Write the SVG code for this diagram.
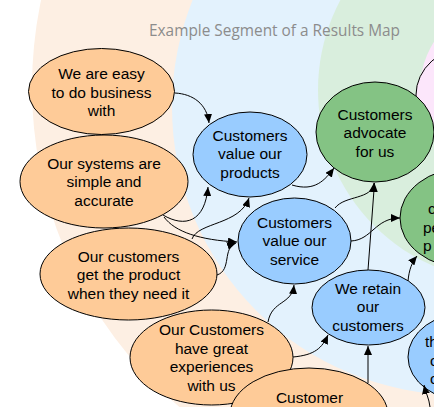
<svg xmlns="http://www.w3.org/2000/svg" width="434" height="407" viewBox="0 0 434 407">
<defs>
<style>
.t{font-family:"Liberation Sans",Arial,sans-serif;font-size:15.5px;fill:#000;text-anchor:middle}
.ts{font-family:"Liberation Sans",Arial,sans-serif;font-size:15.5px;fill:#000}
.o{fill:#fecb98;stroke:#000;stroke-width:1}
.b{fill:#99ccff;stroke:#000;stroke-width:1}
.g{fill:#84c384;stroke:#000;stroke-width:1}
.p{fill:#fce6fb;stroke:#000;stroke-width:1}
.c{fill:none;stroke:#000;stroke-width:1}
.title{font-family:"Open Sans",sans-serif;font-size:15.4px;fill:#8c8c8c}
</style>
<marker id="ah" markerUnits="userSpaceOnUse" markerWidth="10" markerHeight="8" refX="9" refY="4" orient="auto">
<path d="M0,0 L9,4 L0,8 z" fill="#000"/>
</marker>
</defs>
<rect width="434" height="407" fill="#fff"/>
<g id="background">
<circle cx="453" cy="87" r="421" fill="#fdefe3"/>
<circle cx="460" cy="107" r="288" fill="#e3f2fd"/>
<circle cx="510" cy="90" r="192" fill="#d9eedd"/>
<circle cx="510" cy="90" r="90" fill="#fce6fb"/>
</g>
<text class="title" x="149" y="36">Example Segment of a Results Map</text>
<g id="n12"><ellipse class="p" cx="470" cy="95" rx="54" ry="48"/></g>
<g id="n1"><ellipse class="o" cx="101.5" cy="91.5" rx="73" ry="43"/>
<text class="t" x="101.5" y="79">We are easy</text><text class="t" x="101.5" y="97.5">to do business</text><text class="t" x="101.5" y="116">with</text></g>
<g id="n2"><ellipse class="o" cx="104" cy="181.5" rx="84" ry="46.5"/>
<text class="t" x="104" y="168.5">Our systems are</text><text class="t" x="104" y="187">simple and</text><text class="t" x="104" y="205.5">accurate</text></g>
<g id="n3"><ellipse class="o" cx="128.5" cy="274" rx="88.5" ry="46"/>
<text class="t" x="128.5" y="261.5">Our customers</text><text class="t" x="128.5" y="280">get the product</text><text class="t" x="128.5" y="298.5">when they need it</text></g>
<g id="n4"><ellipse class="o" cx="211.5" cy="357.5" rx="81.5" ry="47.5"/>
<text class="t" x="211.5" y="335">Our Customers</text><text class="t" x="211.5" y="353.5">have great</text><text class="t" x="211.5" y="372">experiences</text><text class="t" x="211.5" y="390.5">with us</text></g>
<g id="n5"><ellipse class="o" cx="309" cy="415" rx="79" ry="47"/>
<text class="t" x="309.5" y="403">Customer</text></g>
<g id="n6"><ellipse class="b" cx="250" cy="154.5" rx="57" ry="42.5"/>
<text class="t" x="250" y="140.5">Customers</text><text class="t" x="250" y="159">value our</text><text class="t" x="250" y="177.5">products</text></g>
<g id="n7"><ellipse class="b" cx="294.5" cy="241" rx="56.5" ry="43"/>
<text class="t" x="294.5" y="227.5">Customers</text><text class="t" x="294.5" y="246">value our</text><text class="t" x="294.5" y="264.5">service</text></g>
<g id="n8"><ellipse class="b" cx="368.5" cy="307.5" rx="56.5" ry="37.5"/>
<text class="t" x="368" y="293.5">We retain</text><text class="t" x="368" y="312">our</text><text class="t" x="368" y="330.5">customers</text></g>
<g id="n9"><ellipse class="g" cx="375" cy="132" rx="59" ry="50"/>
<text class="t" x="375" y="119.5">Customers</text><text class="t" x="375" y="138">advocate</text><text class="t" x="375" y="156.5">for us</text></g>
<g id="n10"><ellipse class="g" cx="465" cy="218" rx="65" ry="50"/>
<text class="ts" x="428" y="214">c</text><text class="ts" x="423" y="232.5">pe</text><text class="ts" x="423" y="251">p</text></g>
<g id="n11"><ellipse class="b" cx="470" cy="357" rx="62" ry="45"/>
<text class="ts" x="425" y="347">th</text><text class="ts" x="430" y="365.5">c</text><text class="ts" x="430" y="384">c</text></g>
<g id="connectors">
<path class="c" marker-end="url(#ah)" d="M175,93 C193,94 207,104 209,123"/>
<path class="c" marker-end="url(#ah)" d="M163,215 C185,228 205,222 208,187"/>
<path class="c" marker-end="url(#ah)" d="M164,217 C175,232 200,240 237,242"/>
<path class="c" marker-end="url(#ah)" d="M192,239 C198,222 240,225 249,198"/>
<path class="c" marker-end="url(#ah)" d="M217,275 C232,270 222,248 236,243"/>
<path class="c" marker-end="url(#ah)" d="M292,185 C315,192 325,180 334,168"/>
<path class="c" marker-end="url(#ah)" d="M335,208 C345,195 372,200 374,183"/>
<path class="c" marker-end="url(#ah)" d="M368,270 L374.5,183"/>
<path class="c" marker-end="url(#ah)" d="M351,241 C372,240 375,218 400,218"/>
<path class="c" marker-end="url(#ah)" d="M408,281 C409,270 412,262 417,256"/>
<path class="c" marker-end="url(#ah)" d="M268,322 C272,300 292,305 294,285"/>
<path class="c" marker-end="url(#ah)" d="M293,357 C315,355 322,348 328,335"/>
<path class="c" marker-end="url(#ah)" d="M368,383 L368,346"/>
<path class="c" marker-end="url(#ah)" d="M430,407 C429,398 426,394 424,385"/>
</g>
</svg>
